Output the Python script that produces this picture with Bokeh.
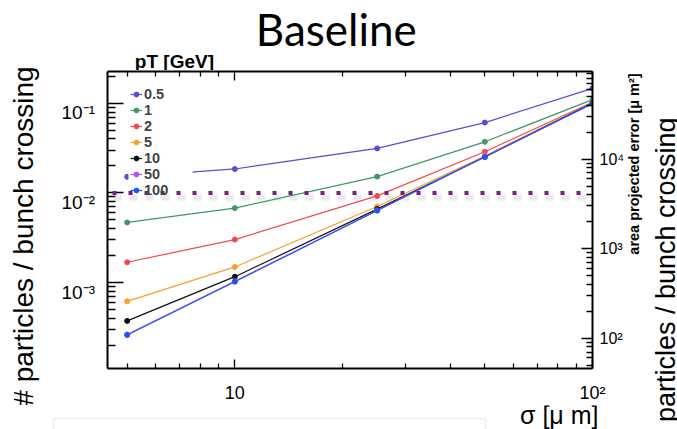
import math

from bokeh.core.properties import value
from bokeh.embed import file_html
from bokeh.layouts import column, row
from bokeh.models import (BoxAnnotation, ColumnDataSource, CustomJSTickFormatter,
                          FixedTicker, LabelSet, Legend, LegendItem, LogAxis,
                          LogScale, Range1d)
from bokeh.plotting import figure
from bokeh.resources import INLINE

# ---- data -----------------------------------------------------------------
sigma_um = [5, 10, 25, 50, 100]
pt_labels = ["0.5", "1", "2", "5", "10", "50", "100"]
rate_pt0p5 = [0.0151, 0.0185, 0.0314, 0.0610, 0.147]
rate_pt1 = [0.00468, 0.00676, 0.0152, 0.0372, 0.110]
rate_pt2 = [0.00168, 0.00301, 0.00926, 0.0288, 0.103]
rate_pt5 = [0.000615, 0.00149, 0.00705, 0.0258, 0.102]
rate_pt10 = [0.000372, 0.00116, 0.00659, 0.0252, 0.101]
rate_pt50 = [0.000262, 0.00103, 0.00637, 0.0253, 0.0995]
rate_pt100 = [0.000259, 0.00102, 0.00635, 0.0253, 0.0993]
threshold = 0.01

x_ticks = [10, 100]
x_tick_labels = ["10", "10²"]
y_ticks = [0.001, 0.01, 0.1]
y_tick_labels = ["10⁻³", "10⁻²", "10⁻¹"]
area_ticks = [100, 1000, 10000]
area_tick_labels = ["10²", "10³", "10⁴"]

series = [rate_pt0p5, rate_pt1, rate_pt2, rate_pt5, rate_pt10, rate_pt50, rate_pt100]
colors = ["#6347d6", "#3f9868", "#f04a4a", "#f5a033", "#111111", "#b050f2", "#1f55ff"]

X_RANGE = (4.405, 100)
Y_RANGE = (1.094e-4, 0.2268)
AREA_RANGE = (45.8, 9.5e4)

FONT = "Liberation Sans"

# ---- page geometry (px) ---------------------------------------------------
LEFT_W, TICKLAB_W = 50, 45          # rotated y title, y tick labels
TOP_H = 70                          # title strip
MAIN_W, MAIN_H = 532, 335           # main plot canvas
RIGHT_W = 50                        # right-hand titles
BOTTOM_H = 24                       # x title strip
FRAME_TOP, FRAME_H = 1, 299         # frame inside the main canvas


def minor_ticks(lo, hi):
    out = []
    for e in range(math.floor(math.log10(lo)), math.ceil(math.log10(hi)) + 1):
        for m in range(2, 10):
            v = m * 10.0 ** e
            if lo <= v <= hi:
                out.append(v)
    return out


def strip(w, h, **kw):
    """A bare canvas whose data units are pixels (y grows downwards)."""
    kw.setdefault("x_range", Range1d(0, w))
    kw.setdefault("y_range", Range1d(h, 0))
    f = figure(width=w, height=h, toolbar_location=None, output_backend="svg",
               min_border=0, x_axis_location=None, y_axis_location=None, **kw)
    f.grid.visible = False
    f.outline_line_color = None
    f.background_fill_color = "white"
    f.border_fill_color = "white"
    return f


def text(fig, s, x, y, size, font=FONT, **kw):
    src = ColumnDataSource(dict(x=[x], y=[y], text=[s]))
    fig.add_layout(LabelSet(x="x", y="y", text="text", source=src,
                            text_font=value(font), text_font_size=size,
                            text_color="black", **kw))


# ---- main plot ------------------------------------------------------------
p = figure(width=MAIN_W, height=MAIN_H, x_axis_type="log", y_axis_type="log",
           x_range=Range1d(*X_RANGE), y_range=Range1d(*Y_RANGE),
           output_backend="svg", toolbar_location=None, title=None,
           min_border_left=12, min_border_right=34, min_border_top=FRAME_TOP,
           min_border_bottom=MAIN_H - FRAME_TOP - FRAME_H)
p.grid.visible = False
p.outline_line_color = None
p.background_fill_color = "white"
p.border_fill_color = "white"

p.extra_y_ranges = {"area": Range1d(*AREA_RANGE)}
p.extra_y_scales = {"area": LogScale()}

blank = CustomJSTickFormatter(code="return ''")

xax = p.xaxis[0]
xax.ticker = FixedTicker(ticks=x_ticks, minor_ticks=minor_ticks(*X_RANGE))
xax.major_label_overrides = dict(zip(x_ticks, x_tick_labels))
xax.major_label_standoff = 14
xax.major_label_text_font_size = "18px"

top = LogAxis(ticker=FixedTicker(ticks=x_ticks, minor_ticks=minor_ticks(*X_RANGE)),
              formatter=blank, major_label_standoff=0,
              major_label_text_font_size="0px")
p.add_layout(top, "above")

yax = p.yaxis[0]
yax.ticker = FixedTicker(ticks=y_ticks, minor_ticks=minor_ticks(*Y_RANGE))
yax.formatter = blank
yax.major_label_standoff = 0
yax.major_label_text_font_size = "0px"

rax = LogAxis(y_range_name="area",
              ticker=FixedTicker(ticks=area_ticks, minor_ticks=minor_ticks(*AREA_RANGE)))
rax.major_label_overrides = dict(zip(area_ticks, area_tick_labels))
rax.major_label_standoff = 7
rax.major_label_text_font_size = "16px"
p.add_layout(rax, "right")

for ax, major, minor in [(xax, 9, 5), (top, 9, 5), (yax, 16, 8), (rax, 11, 6)]:
    ax.axis_line_width = 2
    ax.axis_line_color = "black"
    ax.major_tick_out = 0
    ax.minor_tick_out = 0
    ax.major_tick_in = major
    ax.minor_tick_in = minor
    ax.major_tick_line_width = 1.3
    ax.minor_tick_line_width = 1.3
    ax.major_label_text_font = FONT
    ax.major_label_text_color = "black"

items = []
for lab, vals, col in zip(pt_labels, series, colors):
    rl = p.line(sigma_um, vals, line_color=col, line_width=1.2)
    rs = p.scatter(sigma_um, vals, size=5, fill_color=col, line_color=col)
    items.append(LegendItem(label=lab, renderers=[rl, rs]))

# opaque legend panel, then the legend on top of it
p.add_layout(BoxAnnotation(left=33, right=97, top=14, bottom=129,
                           left_units="canvas", right_units="canvas",
                           top_units="canvas", bottom_units="canvas",
                           fill_color="white", fill_alpha=1.0, line_color=None))
legend = Legend(items=items, location=(23, 170), padding=2, spacing=0, margin=0,
                glyph_height=14, glyph_width=12, label_height=14, label_standoff=2,
                label_text_font=FONT, label_text_font_size="14.5px",
                label_text_font_style="bold", background_fill_alpha=0,
                border_line_color=None)
p.add_layout(legend)

# threshold line with a soft drop shadow
px_per_decade = FRAME_H / (math.log10(Y_RANGE[1]) - math.log10(Y_RANGE[0]))
shadow_y = threshold * 10 ** (-5 / px_per_decade)
for w, a in [(8, 0.07), (5, 0.10)]:
    p.line([X_RANGE[0], X_RANGE[1]], [shadow_y, shadow_y], line_color="#808080",
           line_alpha=a, line_width=w, line_dash="8 8", line_dash_offset=10,
           level="overlay")
p.line([X_RANGE[0], X_RANGE[1]], [threshold, threshold], line_color="#7a1d7a",
       line_width=4, line_dash="4 12", line_dash_offset=11, level="overlay")

# ---- y tick labels on the same log scale as the frame -----------------------
col_h = TOP_H + MAIN_H
frame_top_px = TOP_H + FRAME_TOP
log_top = math.log10(Y_RANGE[1]) + frame_top_px / px_per_decade
log_bot = math.log10(Y_RANGE[1]) - (col_h - frame_top_px) / px_per_decade
ticklab = figure(width=TICKLAB_W, height=col_h, y_axis_type="log",
                 x_range=Range1d(0, TICKLAB_W),
                 y_range=Range1d(10 ** log_bot, 10 ** log_top),
                 toolbar_location=None, output_backend="svg", min_border=0,
                 x_axis_location=None, y_axis_location=None)
ticklab.grid.visible = False
ticklab.outline_line_color = None
ticklab.border_fill_color = "white"
ysrc = ColumnDataSource(dict(y=y_ticks, text=y_tick_labels,
                             x=[TICKLAB_W - 0.5] * len(y_ticks)))
ticklab.add_layout(LabelSet(x="x", y="y", text="text", source=ysrc,
                            y_offset=-15, text_align="right",
                            text_baseline="alphabetic", text_font=value(FONT),
                            text_font_size="19px", text_color="black"))

# ---- titles -----------------------------------------------------------------
ytitle = strip(LEFT_W, col_h)
text(ytitle, "# particles / bunch crossing", 32, 235.5, "28px",
     text_align="center", text_baseline="alphabetic", angle=math.pi / 2)

head = strip(MAIN_W, TOP_H)
text(head, "Baseline", 251, 45, "44px", font="Lato", text_align="center",
     text_baseline="alphabetic")
text(head, "pT [GeV]", 30, 67, "19px", text_font_style="bold",
     text_align="left", text_baseline="alphabetic")

right = strip(RIGHT_W, col_h + BOTTOM_H)
text(right, "area projected error [μ m²]", 11, 163.5, "14.5px",
     text_font_style="bold", text_align="center", text_baseline="alphabetic",
     angle=math.pi / 2)
text(right, "# particles / bunch crossing", 47, 280.5, "27px",
     text_align="center", text_baseline="alphabetic", angle=math.pi / 2)

foot = strip(LEFT_W + TICKLAB_W + MAIN_W, BOTTOM_H)
text(foot, "σ [μ m]", 598, 18.5, "25px", text_align="right",
     text_baseline="alphabetic")
foot.add_layout(BoxAnnotation(left=53, right=485, top=13, bottom=40,
                              fill_alpha=0, line_color="#cfcfcf", line_width=2))

page = row(column(row(ytitle, ticklab, column(head, p)), foot), right)

open("out.html", "w").write(file_html(page, INLINE))
